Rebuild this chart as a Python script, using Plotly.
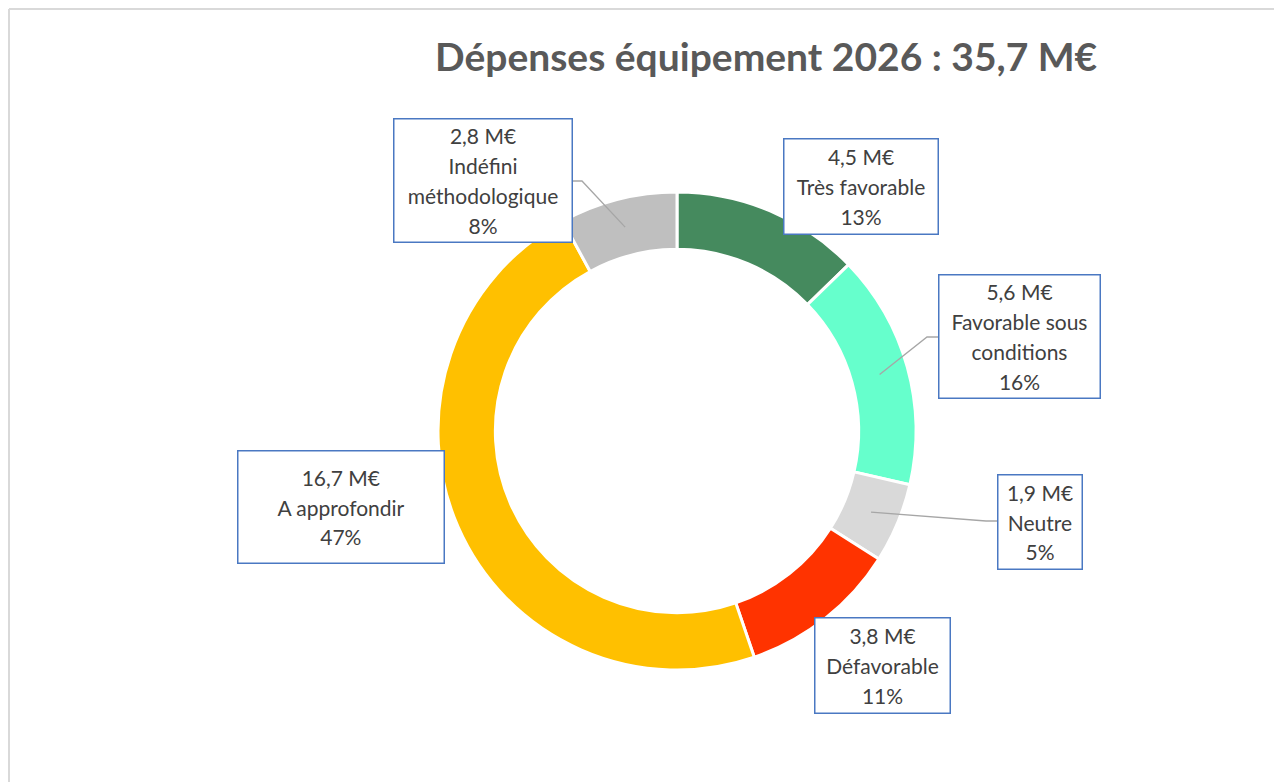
import math
import plotly.graph_objects as go

categories = ["Très favorable", "Favorable sous conditions", "Neutre",
              "Défavorable", "A approfondir", "Indéfini méthodologique"]
label_lines = [["Très favorable"], ["Favorable sous", "conditions"], ["Neutre"],
               ["Défavorable"], ["A approfondir"], ["Indéfini", "méthodologique"]]
montants = [4.5, 5.6, 1.9, 3.8, 16.7, 2.8]  # M€
couleurs = ["#458A5E", "#66FFCC", "#D9D9D9", "#FF3300", "#FFC000", "#BFBFBF"]
titre = "Dépenses équipement 2026 : 35,7 M€"

# la page html ajoute une marge de 8 px autour de la figure
OFF = 8
W, H = 1282 - OFF, 782 - OFF


def px(x):
    return (x - OFF) / W


def py(y):
    return 1 - (y - OFF) / H


# géométrie de l'anneau (pixels de la capture)
cx, cy, R, trou = 677, 431, 239, 0.76

# boîtes des étiquettes (x0, y0, x1, y1) en pixels, et départ du trait de rappel
boites = [(783, 138, 938, 234), (938, 274, 1100, 398), (997, 474, 1082, 569),
          (814, 617, 950, 713), (237, 450, 444, 563), (393, 118, 572, 242)]
rappels = [None, ("left", 337), ("left", 521), None, None, ("right", 181)]

fig = go.Figure(go.Pie(
    labels=categories, values=montants, hole=trou, sort=False,
    direction="clockwise", rotation=0, textinfo="none", hoverinfo="label+value+percent",
    marker=dict(colors=couleurs, line=dict(color="white", width=3)),
    domain=dict(x=[px(cx - R), px(cx + R)], y=[py(cy + R), py(cy - R)]),
    showlegend=False,
))

total = sum(montants)
annotations = []
shapes = []
cumul = 0
for i, v in enumerate(montants):
    x0, y0, x1, y1 = boites[i]
    lignes = [f"{v:.1f}".replace(".", ",") + " M€"] + label_lines[i] + [f"{round(v / total * 100)}%"]
    texte = "<br>".join(f"<span style='font-size:21px'>{l}</span>" for l in lignes)
    annotations.append(dict(
        x=px((x0 + x1) / 2), y=py((y0 + y1) / 2), xref="paper", yref="paper",
        xanchor="center", yanchor="middle", showarrow=False, text=texte,
        width=x1 - x0 - 2, height=y1 - y0 - 2, borderpad=0,
        bordercolor="#4A78C2", borderwidth=1.5, bgcolor="white",
        font=dict(family="Lato, sans-serif", size=23, color="#404040"),
    ))
    theta = 2 * math.pi * (cumul + v / 2) / total
    cumul += v
    if rappels[i]:
        cote, yl = rappels[i]
        rm = R * (1 + trou) / 2
        ex, ey = cx + rm * math.sin(theta), cy - rm * math.cos(theta)
        bx = x0 if cote == "left" else x1
        coude = bx - 11 if cote == "left" else bx + 10
        shapes.append(dict(
            type="path", xref="paper", yref="paper",
            path=f"M {px(bx)},{py(yl)} L {px(coude)},{py(yl)} L {px(ex)},{py(ey)}",
            line=dict(color="#A6A6A6", width=1.3), layer="above",
        ))

# cadre gris du graphique
shapes.append(dict(type="line", xref="paper", yref="paper", x0=px(9), x1=1.01, y0=py(9), y1=py(9),
                   line=dict(color="#D9D9D9", width=2)))
shapes.append(dict(type="line", xref="paper", yref="paper", x0=px(9), x1=px(9), y0=py(9), y1=-0.01,
                   line=dict(color="#D9D9D9", width=2)))

annotations.append(dict(
    x=px(766), y=py(56), xref="paper", yref="paper", xanchor="center", yanchor="middle",
    showarrow=False, text=f"<b>{titre}</b>",
    font=dict(family="Lato, sans-serif", size=39, color="#595959"),
))

fig.update_layout(
    width=W, height=H, margin=dict(l=0, r=0, t=0, b=0),
    paper_bgcolor="white", plot_bgcolor="white",
    annotations=annotations, shapes=shapes,
)

fig.write_html("out.html")
